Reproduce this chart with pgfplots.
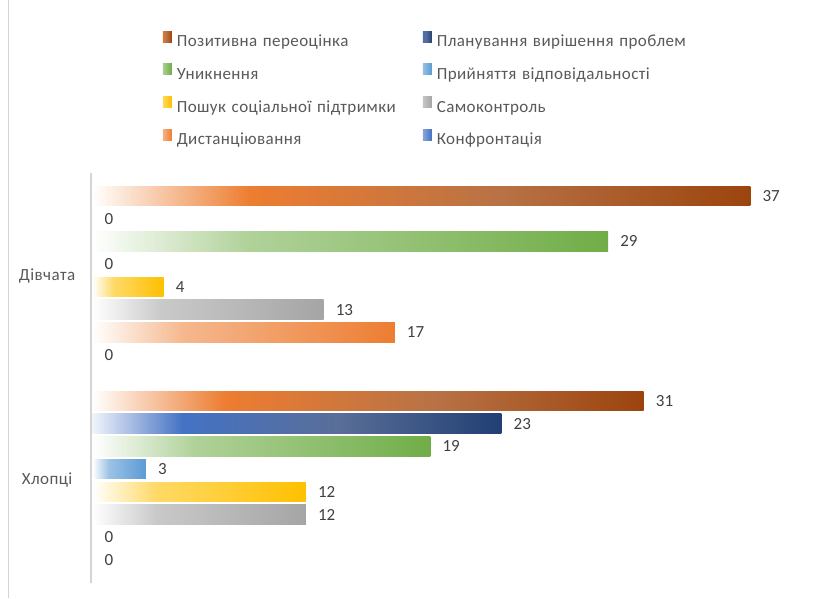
\documentclass[border=0pt]{standalone}
\usepackage{fontspec}
\setmainfont{Carlito}
\newfontfamily\lsfont{Carlito}[LetterSpace=2.5]
\usepackage{pgfplots}
\pgfplotsset{compat=1.18}

\definecolor{cOr}{HTML}{ED7D31}
\definecolor{cBr}{HTML}{9C440E}
\definecolor{cBrMid}{HTML}{B87245}
\definecolor{cBl}{HTML}{4472C4}
\definecolor{cNv}{HTML}{213F73}
\definecolor{cNvMid}{HTML}{596E98}
\definecolor{cGr}{HTML}{70AD47}
\definecolor{cLb}{HTML}{5B9BD5}
\definecolor{cYe}{HTML}{FFC000}
\definecolor{cGy}{HTML}{A5A5A5}
\definecolor{txt}{HTML}{595959}
\definecolor{lbl}{HTML}{404040}
\definecolor{axgray}{HTML}{D4D4D4}

\pgfdeclarehorizontalshading{shPos}{100bp}{color(0bp)=(white); color(25bp)=(white); color(37bp)=(cOr); color(56bp)=(cBrMid); color(75bp)=(cBr); color(100bp)=(cBr)}
\pgfdeclarehorizontalshading{shPlan}{100bp}{color(0bp)=(white); color(25bp)=(white!92!cBl); color(36bp)=(cBl); color(55bp)=(cNvMid); color(75bp)=(cNv); color(100bp)=(cNv)}
\pgfdeclarehorizontalshading{shGr}{100bp}{color(0bp)=(white); color(25bp)=(white); color(40bp)=(cGr!55!white); color(75bp)=(cGr); color(100bp)=(cGr)}
\pgfdeclarehorizontalshading{shLb}{100bp}{color(0bp)=(white); color(25bp)=(white); color(40bp)=(cLb!60!white); color(75bp)=(cLb); color(100bp)=(cLb)}
\pgfdeclarehorizontalshading{shYe}{100bp}{color(0bp)=(white); color(25bp)=(white); color(40bp)=(cYe!60!white); color(75bp)=(cYe); color(100bp)=(cYe)}
\pgfdeclarehorizontalshading{shGy}{100bp}{color(0bp)=(white); color(25bp)=(white); color(40bp)=(cGy!60!white); color(75bp)=(cGy); color(100bp)=(cGy)}
\pgfdeclarehorizontalshading{shOr}{100bp}{color(0bp)=(white); color(25bp)=(white); color(40bp)=(cOr!55!white); color(75bp)=(cOr); color(100bp)=(cOr)}
\pgfdeclarehorizontalshading{shBl}{100bp}{color(0bp)=(white); color(25bp)=(white); color(40bp)=(cBl!60!white); color(75bp)=(cBl); color(100bp)=(cBl)}

\pgfplotsset{
  mybar/.style={xbar, bar width=0.855, bar shift=0pt, draw=none, shade, shading=#1},
}

\begin{document}
\begin{tikzpicture}
\useasboundingbox (0pt,0pt) rectangle (813pt,598pt);
\draw[axgray, line width=0.8pt] (8pt,0pt) -- (8pt,598pt);
\begin{axis}[
  at={(91.1pt,15pt)}, anchor=south west,
  scale only axis, width=712.6pt, height=410pt,
  xmin=-0.08, xmax=40, ymin=-4.5, ymax=13.5,
  axis x line=none, axis y line=left,
  y axis line style={-, draw=axgray, line width=2.2pt},
  xtick=\empty, ytick={0,9}, yticklabels={Хлопці,Дівчата},
  major tick length=0pt,
  yticklabel style={anchor=center, xshift=-44pt, font=\lsfont\fontsize{17}{19}\selectfont, text=txt},
  clip=false,
  point meta=x,
  /pgf/number format/assume math mode=true,
  nodes near coords,
  nodes near coords style={anchor=west, inner sep=0pt, xshift=12pt, font=\fontsize{17}{19}\selectfont, text=lbl},
  legend columns=2,
  legend image code/.code={%
    \begin{scope}
      \clip (0pt,0pt) rectangle (9pt,11pt);
      \path[#1, draw=none] (-5pt,0pt) rectangle (9pt,11pt);
    \end{scope}},
  legend style={at={(0.1006,1.346)}, anchor=north west, draw=none, fill=none,
    inner sep=0pt, outer sep=0pt, row sep=14.2pt,
    font=\lsfont\fontsize{17}{19}\selectfont, text=txt,
    nodes={inner sep=0pt, text height=12pt, text depth=3pt, text width=241pt, align=left, anchor=west},
    /tikz/every odd column/.append style={column sep=5pt},
    /tikz/every even column/.append style={column sep=5pt}},
]
% group centres: Хлопці at y=0, Дівчата at y=9; one bar per unit
% each bar is its own plot so that its gradient spans that bar only
\addplot[mybar=shPos]  coordinates {(37,12.5)};
\addlegendentry{\mbox{Позитивна переоцінка}}
\addplot[mybar=shPlan] coordinates {(0,11.5)};
\addlegendentry{\mbox{Планування вирішення проблем}}
\addplot[mybar=shGr]   coordinates {(29,10.5)};
\addlegendentry{\mbox{Уникнення}}
\addplot[mybar=shLb]   coordinates {(0,9.5)};
\addlegendentry{\mbox{Прийняття відповідальності}}
\addplot[mybar=shYe]   coordinates {(4,8.5)};
\addlegendentry{\mbox{Пошук соціальної підтримки}}
\addplot[mybar=shGy]   coordinates {(13,7.5)};
\addlegendentry{\mbox{Самоконтроль}}
\addplot[mybar=shOr]   coordinates {(17,6.5)};
\addlegendentry{\mbox{Дистанціювання}}
\addplot[mybar=shBl]   coordinates {(0,5.5)};
\addlegendentry{\mbox{Конфронтація}}
% Хлопці
\addplot[mybar=shPos, forget plot]  coordinates {(31,3.5)};
\addplot[mybar=shPlan, forget plot] coordinates {(23,2.5)};
\addplot[mybar=shGr, forget plot]   coordinates {(19,1.5)};
\addplot[mybar=shLb, forget plot]   coordinates {(3,0.5)};
\addplot[mybar=shYe, forget plot]   coordinates {(12,-0.5)};
\addplot[mybar=shGy, forget plot]   coordinates {(12,-1.5)};
\addplot[mybar=shOr, forget plot]   coordinates {(0,-2.5)};
\addplot[mybar=shBl, forget plot]   coordinates {(0,-3.5)};
\end{axis}
\end{tikzpicture}
\end{document}
